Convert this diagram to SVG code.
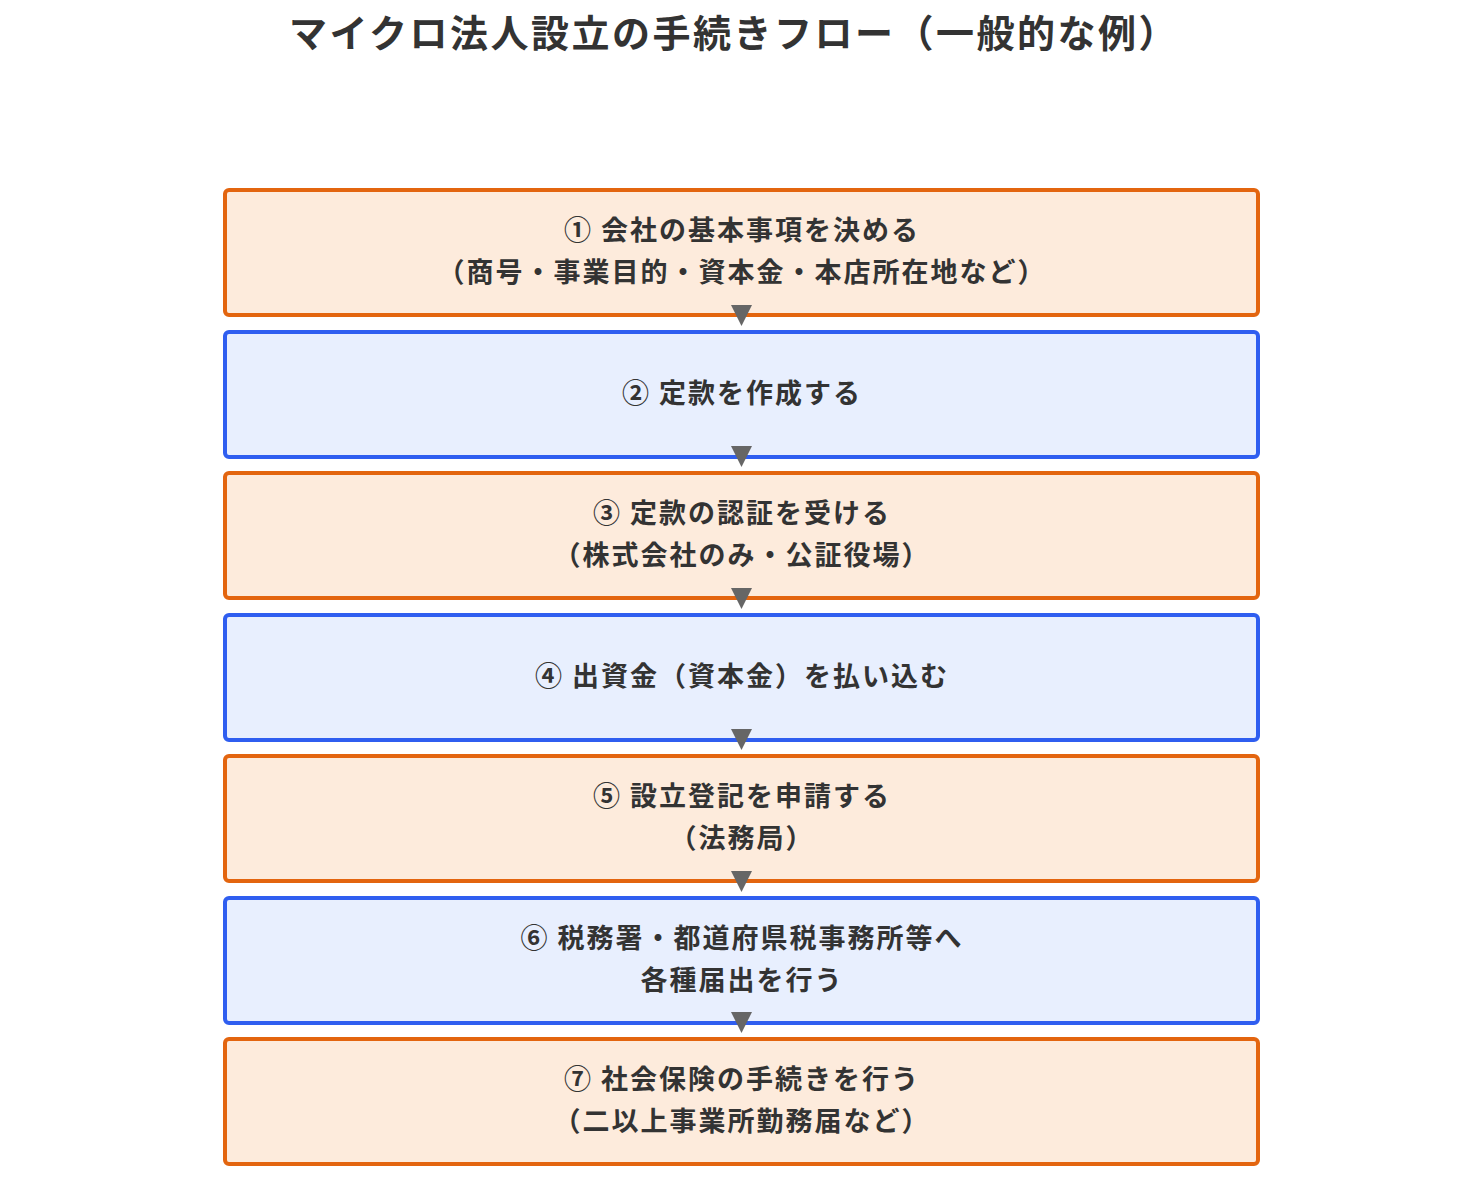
<svg xmlns="http://www.w3.org/2000/svg" width="1483" height="1198" viewBox="0 0 1483 1198">
<style>
text{font-family:"Noto Sans CJK JP","Noto Sans",sans-serif;font-weight:bold;fill:#333;text-anchor:middle}
.t{font-size:27px;letter-spacing:2px}
.o{fill:#fdebdc;stroke:#e3650f;stroke-width:4}
.b{fill:#e8effe;stroke:#2f5ef0;stroke-width:4}
</style>
<rect width="1483" height="1198" fill="#fff"/>
<text x="734" y="47" font-size="38" letter-spacing="2.5">マイクロ法人設立の手続きフロー（一般的な例）</text>
<g id="n1"><rect class="o" x="225" y="190" width="1033" height="125" rx="4"/><text class="t" x="742" y="240">① 会社の基本事項を決める</text><text class="t" x="742" y="282">（商号・事業目的・資本金・本店所在地など）</text></g>
<g id="n2"><rect class="b" x="225" y="332" width="1033" height="125" rx="4"/><text class="t" x="742" y="403">② 定款を作成する</text></g>
<g id="n3"><rect class="o" x="225" y="473" width="1033" height="125" rx="4"/><text class="t" x="742" y="523">③ 定款の認証を受ける</text><text class="t" x="742" y="565">（株式会社のみ・公証役場）</text></g>
<g id="n4"><rect class="b" x="225" y="615" width="1033" height="125" rx="4"/><text class="t" x="742" y="686">④ 出資金（資本金）を払い込む</text></g>
<g id="n5"><rect class="o" x="225" y="756" width="1033" height="125" rx="4"/><text class="t" x="742" y="806">⑤ 設立登記を申請する</text><text class="t" x="742" y="848">（法務局）</text></g>
<g id="n6"><rect class="b" x="225" y="898" width="1033" height="125" rx="4"/><text class="t" x="742" y="948">⑥ 税務署・都道府県税事務所等へ</text><text class="t" x="742" y="990">各種届出を行う</text></g>
<g id="n7"><rect class="o" x="225" y="1039" width="1033" height="125" rx="4"/><text class="t" x="742" y="1089">⑦ 社会保険の手続きを行う</text><text class="t" x="742" y="1131">（二以上事業所勤務届など）</text></g>
<g id="edges" fill="#666">
<path d="M731,305 L752,305 L741.5,326 Z"/>
<path d="M731,446 L752,446 L741.5,467 Z"/>
<path d="M731,588 L752,588 L741.5,609 Z"/>
<path d="M731,729 L752,729 L741.5,750 Z"/>
<path d="M731,871 L752,871 L741.5,892 Z"/>
<path d="M731,1012 L752,1012 L741.5,1033 Z"/>
</g>
</svg>
